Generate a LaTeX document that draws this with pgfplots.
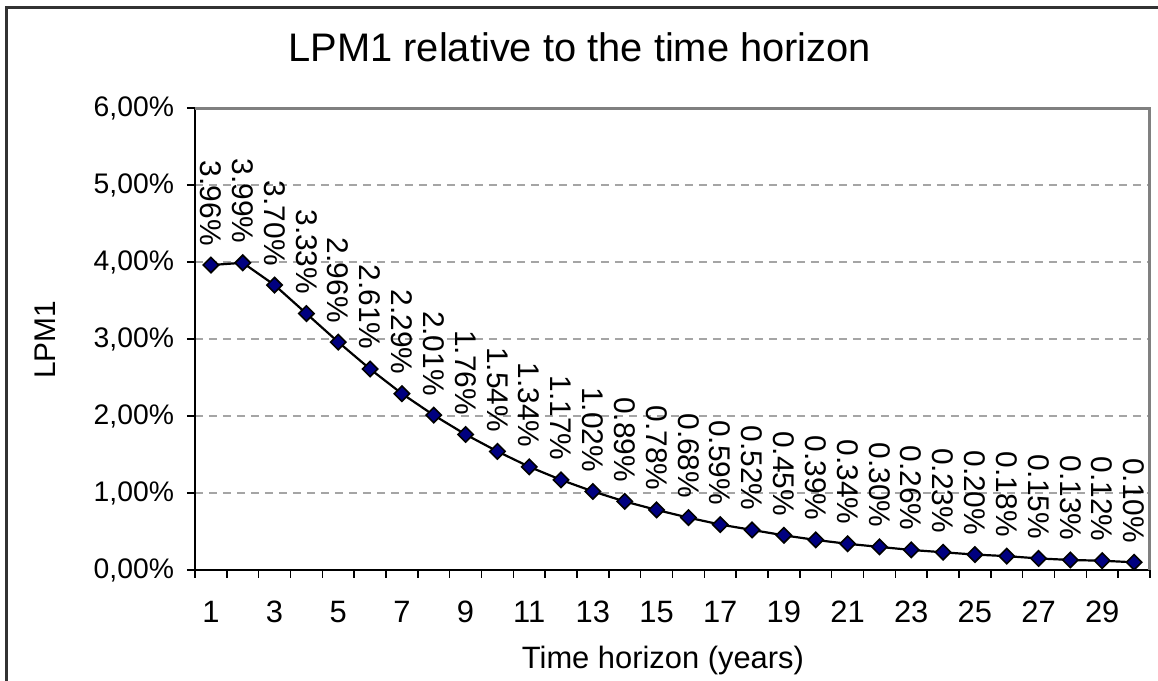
\documentclass[border=0pt]{standalone}
\usepackage{pgfplots}
\pgfplotsset{compat=1.18}
\usepackage{fontspec}
\setmainfont{Liberation Sans}

\definecolor{marknavy}{RGB}{0,0,128}
\definecolor{gridgray}{RGB}{165,165,165}
\definecolor{framegray}{RGB}{128,128,128}
\definecolor{outerframe}{RGB}{50,50,50}

\begin{document}
\begin{tikzpicture}
\begin{axis}[%
scale only axis,
width=477.5bp,
height=231bp,
xmin=0.5, xmax=30.5,
ymin=0, ymax=6,
clip=false,
axis lines*=left,
axis line style={black, line width=1bp, -},
tick align=outside,
xtick={0.5,1.5,...,30.5},
xticklabel=\empty,
extra x ticks={1,3,...,29},
extra x tick labels={1,3,5,7,9,11,13,15,17,19,21,23,25,27,29},
extra x tick style={major tick length=0pt},
ytick={0,1,...,6},
yticklabels={{0,00\%},{1,00\%},{2,00\%},{3,00\%},{4,00\%},{5,00\%},{6,00\%}},
major tick length=4bp,
tick style={black, line width=0.8bp},
ymajorgrids,
grid style={gridgray, dash pattern=on 4bp off 3bp, line width=0.6bp},
yticklabel style={font=\fontsize{14.2}{16}\selectfont, xshift=-3bp},
xticklabel style={font=\fontsize{15.5}{18}\selectfont, yshift=-12bp},
/pgf/number format/assume math mode=true,
nodes near coords={\pgfmathprintnumber[fixed,fixed zerofill,precision=2]{\pgfplotspointmeta}\%},
every node near coord/.append style={font=\fontsize{15}{17}\selectfont, black, yshift=6bp, rotate=-90, anchor=east},
]
\addplot [color=black, line width=1.1bp, mark=square*, mark size=2.7bp,
  mark options={solid, rotate=45, fill=marknavy, draw=black, line width=0.8bp}]
  table[row sep=crcr]{
1	3.96\\
2	3.99\\
3	3.70\\
4	3.33\\
5	2.96\\
6	2.61\\
7	2.29\\
8	2.01\\
9	1.76\\
10	1.54\\
11	1.34\\
12	1.17\\
13	1.02\\
14	0.89\\
15	0.78\\
16	0.68\\
17	0.59\\
18	0.52\\
19	0.45\\
20	0.39\\
21	0.34\\
22	0.30\\
23	0.26\\
24	0.23\\
25	0.20\\
26	0.18\\
27	0.15\\
28	0.13\\
29	0.12\\
30	0.10\\
 };

% plot area border (top and right)
\draw[framegray, line width=1.5bp] (axis description cs:0,1) -- (axis description cs:1,1) -- (axis description cs:1,0);
% chart frame
\draw[outerframe, line width=1.5bp] (axis description cs:-0.1969,-0.2403) -- (axis description cs:-0.1969,1.2165) -- (axis description cs:1.0084,1.2165);

\node[font=\fontsize{20}{24}\selectfont] at (axis description cs:0.403,1.132) {LPM1 relative to the time horizon};
\node[font=\fontsize{15}{18}\selectfont, rotate=90] at (axis description cs:-0.157,0.498) {LPM1};
\node[font=\fontsize{15.5}{18}\selectfont] at (axis description cs:0.490,-0.197) {Time horizon (years)};

\coordinate (bl) at (axis description cs:-0.2042,-0.2403);
\coordinate (tr) at (axis description cs:1.0084,1.2338);
\end{axis}
\pgfresetboundingbox
\useasboundingbox (bl) rectangle (tr);
\end{tikzpicture}
\end{document}
